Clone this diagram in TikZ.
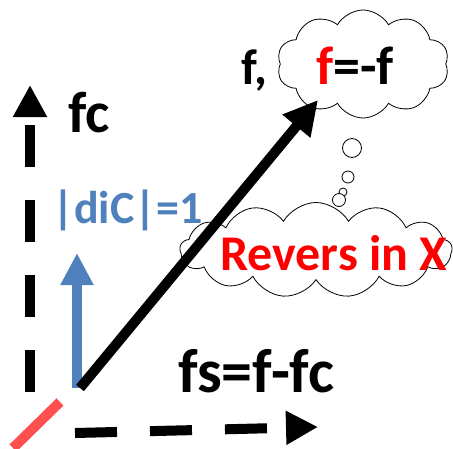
\documentclass[tikz,border=0pt]{standalone}
\usepackage{fontspec}
\setmainfont{Carlito}
\usetikzlibrary{shapes.symbols, arrows.meta, positioning}

\begin{document}
\begin{tikzpicture}[
        x=1pt, y=-1pt,
        lbl/.style={inner sep=0pt, anchor=base west, font=\bfseries\fontsize{58}{60}\selectfont},
        thought/.style={cloud, draw, thick, fill=white, cloud puff arc=120, aspect=1.6},
        bubble/.style={circle, draw, thick, fill=white, inner sep=0pt},
        axis/.style={line width=10pt, dash pattern=on 42pt off 33pt, -{Triangle[length=32pt,width=32pt]}},
        vec/.style={line width=10pt, -{Triangle[length=34pt,width=34pt]}}
    ]
        \useasboundingbox (0,0) rectangle (453,448);

        % clouds
        \node [thought, cloud puffs=10, minimum width=172pt, minimum height=108pt] (topcloud) at (363,64) {};
        \node [thought, cloud puffs=13, minimum width=272pt, minimum height=95pt] (lowcloud) at (316,250) {};
        \node [bubble, minimum size=19pt] (b1) at (352,148) {};
        \node [bubble, minimum size=12pt] (b2) at (348,177) {};
        \node [bubble, minimum size=8pt] (b3) at (343,192) {};
        \node [bubble, minimum size=13pt] (b4) at (339,200) {};

        % axes
        \coordinate (origin) at (30,392);
        \coordinate (ctop) at (30,85);
        \coordinate (sstart) at (75,433);
        \coordinate (send) at (318,427);
        \coordinate (redA) at (13,448);
        \coordinate (redB) at (60,402);
        \coordinate (foot) at (80,388);
        \coordinate (ftip) at (318,100);
        \coordinate (dfoot) at (77,388);
        \coordinate (dtip) at (77,253);

        % paths
        \draw [axis] (origin) -- (ctop);
        \draw [axis] (sstart) -- (send);
        \draw [line width=10pt, color={rgb,255:red,255;green,80;blue,80}] (redA) -- (redB);
        \draw [vec, color={rgb,255:red,79;green,129;blue,189}, -{Triangle[length=32pt,width=31pt]}] (dfoot) -- (dtip);
        \draw [vec] (foot) -- (ftip);

        % labels
        \node [lbl] (fc) at (68,132) {fc};
        \node [lbl, font=\bfseries\fontsize{62}{64}\selectfont] (fs) at (178,392) {fs=f-fc};
        \node [lbl, font=\bfseries\fontsize{46}{48}\selectfont, text={rgb,255:red,79;green,129;blue,189}] (dic) at (52,223) {|diC|=1};
        \node [lbl, font=\bfseries\fontsize{50}{52}\selectfont] (f) at (241,84) {f,};
        \node [lbl, font=\bfseries\fontsize{54}{56}\selectfont] (flip) at (316,84) {\textcolor{red}{f}=-f};
        \node [lbl, font=\bfseries\fontsize{50}{52}\selectfont, text=red] (rev) at (220,270) {Revers in X};
    \end{tikzpicture}
\end{document}
